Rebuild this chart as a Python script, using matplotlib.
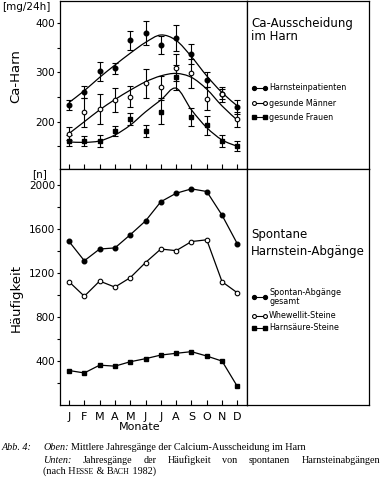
import matplotlib
matplotlib.use("Agg")
from matplotlib import pyplot as plt
from matplotlib.path import Path
from matplotlib.patches import PathPatch
from matplotlib.lines import Line2D
from matplotlib.ticker import FixedLocator

# monthly values
months = ['J', 'F', 'M', 'A', 'M', 'J', 'J', 'A', 'S', 'O', 'N', 'D']

# Ca excretion (mg/24h), means and error bars
patients = [234, 261, 302, 308, 365, 380, 355, 370, 337, 285, 256, 230]
patients_err = [11, 12, 19, 12, 19, 25, 18, 27, 20, 15, 10, 15]
men = [176, 219, 226, 244, 251, 278, 270, 310, 298, 247, 256, 205]
men_err = [14, 30, 30, 24, 22, 29, 22, 27, 30, 24, 15, 15]
women = [161, 161, 161, 181, 205, 181, 220, 290, 209, 193, 161, 150]
women_err = [11, 10, 12, 11, 12, 13, 24, 25, 18, 19, 13, 10]

# fitted curves (values of the drawn curve at each month)
patients_fit = [239, 263, 290, 315, 339, 361, 376, 365, 332, 293, 259, 232]
men_fit = [176, 200, 224, 245, 264, 281, 293, 298, 290, 266, 232, 203]
women_fit = [159, 158, 161, 173, 193, 220, 244, 268, 224, 188, 163, 150]

# spontaneous stone passages (n)
total = [1490, 1314, 1421, 1431, 1551, 1677, 1852, 1929, 1969, 1945, 1729, 1468]
whewellite = [1123, 991, 1129, 1074, 1160, 1298, 1421, 1406, 1489, 1505, 1123, 1022]
uric = [314, 292, 363, 354, 394, 422, 455, 471, 486, 446, 400, 169]

W, H = 382, 480
SANS = 'DejaVu Sans'
SERIF = 'Liberation Serif'
plt.rcParams['font.family'] = SANS
plt.rcParams['axes.linewidth'] = 0.9


def fx(x):
    return x / W


def fy(y):
    return 1 - y / H


def box(x0, y0, x1, y1):
    return [fx(x0), fy(y1), (x1 - x0) / W, (y1 - y0) / H]


filled = dict(marker='o', mfc='black', mec='black', ms=3.3)
opened = dict(marker='o', mfc='white', mec='black', ms=3.3, mew=0.8)
square = dict(marker='s', mfc='black', mec='black', ms=3.2)


def smooth(ax, xs, ys):
    # Catmull-Rom through the read curve values, drawn as bezier path
    n = len(xs)
    verts = [(xs[0], ys[0])]
    codes = [Path.MOVETO]
    for i in range(n - 1):
        a = max(i - 1, 0)
        b = min(i + 2, n - 1)
        c1 = (xs[i] + (xs[i + 1] - xs[a]) / 6, ys[i] + (ys[i + 1] - ys[a]) / 6)
        c2 = (xs[i + 1] - (xs[b] - xs[i]) / 6, ys[i + 1] - (ys[b] - ys[i]) / 6)
        verts += [c1, c2, (xs[i + 1], ys[i + 1])]
        codes += [Path.CURVE4] * 3
    ax.add_patch(PathPatch(Path(verts, codes), fill=False, lw=0.9, ec='black'))


fig = plt.figure(figsize=(W / 100, H / 100), dpi=100)
ax1 = fig.add_axes(box(60, 1, 247, 169))
ax2 = fig.add_axes(box(60, 169, 247, 405))
leg1 = fig.add_axes(box(247, 1, 369, 169))
leg2 = fig.add_axes(box(247, 169, 369, 405))

x = list(range(12))

# upper panel
for vals, err, fit, st in [(patients, patients_err, patients_fit, filled),
                           (men, men_err, men_fit, opened),
                           (women, women_err, women_fit, square)]:
    smooth(ax1, x, fit)
    ax1.errorbar(x, vals, yerr=err, ls='none', ecolor='black', elinewidth=0.8,
                 capsize=2, capthick=0.8, zorder=3, **st)
ax1.set_ylim(104, 445)
ax1.yaxis.set_major_locator(FixedLocator([200, 300, 400]))
ax1.yaxis.set_minor_locator(FixedLocator([150, 250, 350]))

# lower panel
for vals, st in [(total, filled), (whewellite, opened), (uric, square)]:
    ax2.plot(x, vals, color='black', lw=0.9, **st)
ax2.set_ylim(0, 2150)
ax2.yaxis.set_major_locator(FixedLocator([400, 800, 1200, 1600, 2000]))
ax2.yaxis.set_minor_locator(FixedLocator([200, 600, 1000, 1400, 1800]))

for ax in (ax1, ax2):
    ax.set_xlim(-0.59, 11.63)
    ax.set_xticks(x)
    ax.tick_params(axis='x', direction='in', length=3.5, width=0.8)
    ax.tick_params(axis='y', which='both', direction='out', length=2.5,
                   width=0.8, pad=1, labelsize=7.5)
ax1.tick_params(axis='x', labelbottom=False)
ax2.set_xticklabels(months, fontsize=8)
ax2.tick_params(axis='x', pad=5)

for ax in (leg1, leg2):
    ax.set_xticks([])
    ax.set_yticks([])

# axis labels
fig.text(fx(2), fy(7), '[mg/24h]', fontsize=7.5, va='center', ha='left')
fig.text(fx(16), fy(76), 'Ca-Harn', fontsize=9.5, rotation=90, ha='center', va='center')
fig.text(fx(40), fy(174), '[n]', fontsize=7.5, va='center', ha='center')
fig.text(fx(16), fy(298), 'Häufigkeit', fontsize=9.5, rotation=90, ha='center', va='center')
fig.text(fx(140), fy(427), 'Monate', fontsize=8, ha='center', va='center')

# legend panels
fig.text(fx(251), fy(23), 'Ca-Ausscheidung', fontsize=8.5, va='center')
fig.text(fx(251), fy(37), 'im Harn', fontsize=8.5, va='center')
fig.text(fx(251), fy(235), 'Spontane', fontsize=8.5, va='center')
fig.text(fx(251), fy(251), 'Harnstein-Abgänge', fontsize=8.5, va='center')

legend_rows = [('Harnsteinpatienten', filled, 88),
               ('gesunde Männer', opened, 103),
               ('gesunde Frauen', square, 117),
               ('Spontan-Abgänge\ngesamt', filled, 297),
               ('Whewellit-Steine', opened, 316),
               ('Harnsäure-Steine', square, 328)]
for label, st, yy in legend_rows:
    st2 = dict(st)
    st2['ms'] = 2.8
    fig.add_artist(Line2D([fx(254), fx(265)], [fy(yy), fy(yy)], color='black', lw=0.8,
                          transform=fig.transFigure, **st2))
    fig.text(fx(269), fy(yy), label, fontsize=5.8, va='center', linespacing=0.9)

# caption
fig.canvas.draw()
renderer = fig.canvas.get_renderer()


def width(s, size, style='normal'):
    t = fig.text(0, 0, s, fontsize=size, style=style, family=SERIF)
    w = t.get_window_extent(renderer).width
    t.remove()
    return w


def run(pieces, x0, base, total_w=None):
    # place pieces along a baseline; stretch gaps when total_w is given
    widths = [width(s, sz, st) for s, sz, st, _ in pieces]
    gaps = [g for _, _, _, g in pieces]
    if total_w is not None:
        extra = (total_w - sum(widths) - sum(gaps)) / max(sum(1 for g in gaps if g > 0), 1)
        gaps = [g + extra if g > 0 else 0 for g in gaps]
    xx = x0
    for (s, sz, st, _), w, g in zip(pieces, widths, gaps):
        fig.text(fx(xx), fy(base), s, fontsize=sz, style=st, family=SERIF, va='baseline')
        xx += w + g


CS = 7.3
CX = 43
sp = width('a a', CS) - width('aa', CS)
fig.text(fx(2), fy(450), 'Abb. 4:', fontsize=CS, style='italic', family=SERIF, va='baseline')
run([('Oben:', CS, 'italic', sp),
     ('Mittlere Jahresgänge der Calcium-Ausscheidung im Harn', CS, 'normal', 0)], CX, 450)
words2 = 'Jahresgänge der Häufigkeit von spontanen Harnsteinabgängen'.split()
run([('Unten:', CS, 'italic', sp)] + [(w, CS, 'normal', sp) for w in words2[:-1]]
    + [(words2[-1], CS, 'normal', 0)], CX, 463, total_w=380 - CX)
run([('(nach H', CS, 'normal', 0), ('ESSE', CS * 0.78, 'normal', 0),
     (' & B', CS, 'normal', 0), ('ACH', CS * 0.78, 'normal', 0),
     (' 1982)', CS, 'normal', 0)], CX, 474)

fig.savefig('out.png', dpi=100)
